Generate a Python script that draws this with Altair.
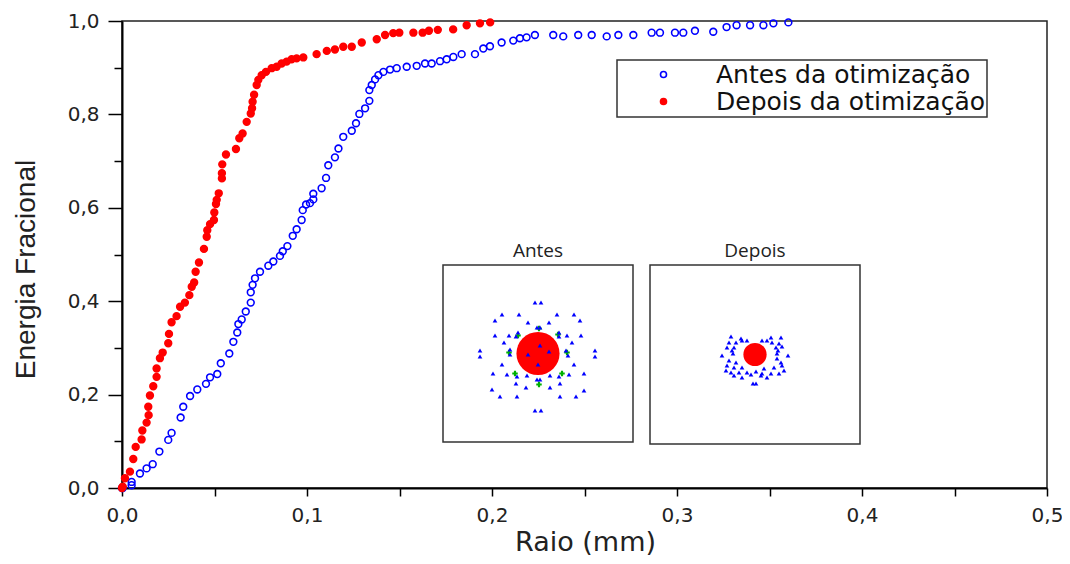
import altair as alt
import pandas as pd

# ---------------- data ----------------
SERIES = ["Antes da otimização", "Depois da otimização"]
SERIES_STROKE = ["#0000ff", "#ff0000"]
SERIES_FILL = ["transparent", "#ff0000"]

X_TICKS = [0.0, 0.05, 0.1, 0.15, 0.2, 0.25, 0.3, 0.35, 0.4, 0.45, 0.5]
Y_TICKS = [0.0, 0.1, 0.2, 0.3, 0.4, 0.5, 0.6, 0.7, 0.8, 0.9, 1.0]

raio_antes = [0.0, 0.0004, 0.0052, 0.0052, 0.0097, 0.0133, 0.0166, 0.0202, 0.0250, 0.0268,
              0.0317, 0.0331, 0.0368, 0.0407, 0.0454, 0.0476, 0.0515, 0.0534, 0.0580, 0.0602,
              0.0623, 0.0629, 0.0647, 0.0669, 0.0696, 0.0696, 0.0706, 0.0719, 0.0746, 0.0791,
              0.0818, 0.0854, 0.0869, 0.0894, 0.0923, 0.0944, 0.0971, 0.0977, 0.0995, 0.1016,
              0.1034, 0.1034, 0.1079, 0.1103, 0.1115, 0.1151, 0.1170, 0.1196, 0.1242, 0.1265,
              0.1283, 0.1314, 0.1337, 0.1337, 0.1350, 0.1368, 0.1386, 0.1413, 0.1449, 0.1485,
              0.1539, 0.1593, 0.1638, 0.1674, 0.1719, 0.1755, 0.1791, 0.1836, 0.1908, 0.1953,
              0.1989, 0.2052, 0.2115, 0.2151, 0.2187, 0.2232, 0.2331, 0.2385, 0.2466, 0.2539,
              0.2620, 0.2683, 0.2764, 0.2863, 0.2908, 0.2989, 0.3034, 0.3097, 0.3196, 0.3268,
              0.3322, 0.3395, 0.3467, 0.3521, 0.3602]
energia_antes = [0.0, 0.0, 0.006, 0.013, 0.031, 0.042, 0.051, 0.078, 0.103, 0.118,
                 0.151, 0.174, 0.197, 0.211, 0.223, 0.237, 0.244, 0.267, 0.288, 0.313,
                 0.333, 0.351, 0.361, 0.378, 0.397, 0.419, 0.435, 0.449, 0.463, 0.476,
                 0.485, 0.497, 0.507, 0.518, 0.540, 0.554, 0.574, 0.595, 0.607, 0.610,
                 0.618, 0.630, 0.642, 0.664, 0.691, 0.708, 0.727, 0.752, 0.765, 0.781,
                 0.801, 0.813, 0.829, 0.852, 0.863, 0.875, 0.884, 0.891, 0.896, 0.899,
                 0.902, 0.904, 0.909, 0.909, 0.914, 0.918, 0.923, 0.929, 0.929, 0.941,
                 0.946, 0.954, 0.958, 0.963, 0.965, 0.970, 0.970, 0.967, 0.970, 0.970,
                 0.967, 0.970, 0.970, 0.975, 0.975, 0.975, 0.975, 0.979, 0.977, 0.987,
                 0.991, 0.991, 0.991, 0.995, 0.997]

raio_depois = [0.0, 0.0004, 0.0016, 0.0043, 0.0061, 0.0074, 0.0106, 0.0110, 0.0133, 0.0144,
               0.0142, 0.0151, 0.0169, 0.0187, 0.0187, 0.0205, 0.0220, 0.0250, 0.0254, 0.0268,
               0.0295, 0.0314, 0.0340, 0.0364, 0.0377, 0.0390, 0.0398, 0.0416, 0.0443, 0.0458,
               0.0461, 0.0476, 0.0497, 0.0499, 0.0508, 0.0512, 0.0523, 0.0540, 0.0540, 0.0542,
               0.0562, 0.0616, 0.0634, 0.0652, 0.0674, 0.0696, 0.0703, 0.0706, 0.0714, 0.0728,
               0.0737, 0.0755, 0.0778, 0.0809, 0.0836, 0.0863, 0.0890, 0.0917, 0.0944, 0.0980,
               0.1052, 0.1107, 0.1151, 0.1196, 0.1242, 0.1296, 0.1377, 0.1422, 0.1466, 0.1499,
               0.1575, 0.1625, 0.1659, 0.1707, 0.1790, 0.1863, 0.1935, 0.1990]
energia_depois = [0.0, 0.003, 0.021, 0.035, 0.062, 0.088, 0.104, 0.123, 0.140, 0.156,
                  0.174, 0.198, 0.218, 0.238, 0.256, 0.278, 0.290, 0.310, 0.330, 0.355,
                  0.368, 0.388, 0.397, 0.413, 0.431, 0.440, 0.463, 0.483, 0.512, 0.538,
                  0.552, 0.565, 0.574, 0.590, 0.608, 0.617, 0.631, 0.663, 0.674, 0.693,
                  0.714, 0.726, 0.749, 0.759, 0.784, 0.802, 0.813, 0.827, 0.842, 0.863,
                  0.874, 0.884, 0.891, 0.899, 0.902, 0.909, 0.913, 0.918, 0.920, 0.922,
                  0.929, 0.936, 0.939, 0.945, 0.945, 0.954, 0.961, 0.970, 0.974, 0.975,
                  0.975, 0.975, 0.979, 0.981, 0.982, 0.991, 0.995, 0.997]

# spot diagrams (offsets from the spot centre, µm)
antes_campo_x = [-95, 95]
antes_campo_y = [-88.5, 88.5]
antes_azul_x = [-3, 3, -36, -19, 19, 36, -43, -10, 11, 42, -20, -22, -1, 2, 21, 21, -43, -29, 29, 43,
                -34, 34, -58, -58, 57, 57, -28, -28, 28, 30, -36, 36, -45, -31, 31, 46, -21, -11, 12, 21,
                -1, 2, -22, -12, 12, 22, -46, 46, -38, -21, 22, 38, -3, 3, 2, 0, -10, 11]
antes_azul_y = [51, 51, 39, 39, 39, 39, 33, 31, 31, 33, 21, 17, 26, 26, 21, 17, 18, 18, 18, 18,
                11, 11, 3, -3, 3, -3, 4, -1, 3, -2, -11, -11, -20, -21, -21, -20, -23, -22, -22, -23,
                -26, -26, -30, -34, -34, -30, -36, -37, -43, -43, -43, -43, -57, -57, 8, -11, -1, 2]
antes_verde_x = [1, -20, 20, -29, 29, -23, 24, 1]
antes_verde_y = [25, 18, 19, 1, 1, -20, -20, -31]
antes_centro = [0, 0]

depois_campo_x = [-105, 105]
depois_campo_y = [-89.5, 89.5]
depois_azul_x = [-24, -14, -8, 7, 16, 26, -26, -19, 17, 24, -28, -21, 21, 27, -33, -22, 22, 33, -26, -19,
                 22, 26, -28, -21, -13, 9, 19, 27, -24, -16, -8, 1, 7, 16, 24, -21, -13, -4, 6, 12,
                 -2, 1, -23, 23, -29, 29, -13, 12]
depois_azul_y = [18, 16, 14, 14, 17, 17, 12, 12, 12, 11, 7, 7, 7, 8, -1, 1, 1, -1, -6, -8,
                 -4, -8, -11, -13, -13, -14, -13, -11, -18, -18, -18, -17, -19, -19, -19, -21, -23, -20, -21, -23,
                 -29, -29, 4, 4, -16, -16, 14, 14]
depois_centro = [0, 0]

# ---------------- main curves ----------------
df = pd.concat([
    pd.DataFrame({"raio": raio_antes, "energia": energia_antes, "serie": SERIES[0]}),
    pd.DataFrame({"raio": raio_depois, "energia": energia_depois, "serie": SERIES[1]}),
], ignore_index=True)

legend = alt.Legend(title=None, orient="none", legendX=495, legendY=39)

x_axis = alt.Axis(
    values=X_TICKS, orient="bottom", grid=False,
    labelExpr="round(datum.value*20) % 2 == 0 ? replace(format(datum.value, '.1f'), '.', ',') : ''",
    labelFont="DejaVu Sans", labelFontSize=20, labelColor="#222222", labelPadding=9,
    labelFlush=False, labelOverlap=False,
    tickSize=8, tickColor="#000000", tickWidth=1.5,
    domainColor="#000000", domainWidth=2,
    titleFont="DejaVu Sans", titleFontSize=27, titleFontWeight="normal", titleColor="#222222",
    titleX=463, titleY=62, titleBaseline="alphabetic", titleAlign="center",
)
y_axis = alt.Axis(
    values=Y_TICKS, orient="left", grid=False,
    labelExpr="round(datum.value*10) % 2 == 0 ? replace(format(datum.value, '.1f'), '.', ',') : ''",
    labelFont="DejaVu Sans", labelFontSize=20, labelColor="#222222", labelPadding=9,
    labelFlush=False, labelOverlap=False,
    tickSize={"condition": {"test": "round(datum.value*10) % 2 == 0", "value": 14}, "value": 8},
    tickColor="#000000", tickWidth=1.5,
    domainColor="#000000", domainWidth=2,
    titleFont="Liberation Sans", titleFontSize=28, titleFontWeight="normal", titleColor="#222222",
    titleX=-88, titleY=248, titleAngle=270, titleBaseline="alphabetic", titleAlign="center",
)

curves = alt.Chart(df).mark_point(size=46, strokeWidth=1.6, opacity=1, filled=False).encode(
    x=alt.X("raio:Q", title="Raio (mm)", scale=alt.Scale(domain=[0, 0.5], nice=False, zero=False), axis=x_axis),
    y=alt.Y("energia:Q", title="Energia Fracional", scale=alt.Scale(domain=[0, 1], nice=False), axis=y_axis),
    color=alt.Color("serie:N", scale=alt.Scale(domain=SERIES, range=SERIES_STROKE), legend=legend),
    fill=alt.Fill("serie:N", scale=alt.Scale(domain=SERIES, range=SERIES_FILL), legend=legend),
)


# ---------------- inset spot diagrams ----------------
def inset(titulo, campo_x, campo_y, px_x, px_y, azul_x, azul_y, verde_x, verde_y, centro, disco):
    xs = alt.Scale(domain=campo_x, range=px_x, nice=False, zero=False)
    ys = alt.Scale(domain=campo_y, range=px_y, nice=False, zero=False)
    quadro = pd.DataFrame({"x1": [campo_x[0]], "x2": [campo_x[1]], "y1": [campo_y[0]], "y2": [campo_y[1]],
                           "xc": [(campo_x[0] + campo_x[1]) / 2], "titulo": [titulo]})
    layers = [
        alt.Chart(quadro).mark_rect(fill="white", stroke="#333333", strokeWidth=1.5).encode(
            x=alt.X("x1:Q", scale=xs, axis=None), x2="x2:Q",
            y=alt.Y("y1:Q", scale=ys, axis=None), y2="y2:Q"),
        alt.Chart(quadro).mark_text(font="Open Sans", fontSize=19, color="#222222",
                                    baseline="alphabetic", dy=-8).encode(
            x=alt.X("xc:Q", scale=xs, axis=None), y=alt.Y("y2:Q", scale=ys, axis=None), text="titulo:N"),
    ]
    if verde_x:
        layers.append(alt.Chart(pd.DataFrame({"x": verde_x, "y": verde_y})).mark_point(
            shape="cross", filled=True, size=30, color="#00b000", opacity=1).encode(
            x=alt.X("x:Q", scale=xs, axis=None), y=alt.Y("y:Q", scale=ys, axis=None)))
    layers.append(alt.Chart(pd.DataFrame({"x": [centro[0]], "y": [centro[1]]})).mark_point(
        shape="circle", filled=True, size=disco, color="#ff0000", opacity=1).encode(
        x=alt.X("x:Q", scale=xs, axis=None), y=alt.Y("y:Q", scale=ys, axis=None)))
    layers.append(alt.Chart(pd.DataFrame({"x": azul_x, "y": azul_y})).mark_point(
        shape="triangle-up", filled=True, size=22, color="#0000ff", opacity=1).encode(
        x=alt.X("x:Q", scale=xs, axis=None), y=alt.Y("y:Q", scale=ys, axis=None)))
    return alt.layer(*layers)


antes = inset("Antes", antes_campo_x, antes_campo_y, [321, 511], [421, 244],
              antes_azul_x, antes_azul_y, antes_verde_x, antes_verde_y, antes_centro, 1860)
depois = inset("Depois", depois_campo_x, depois_campo_y, [528, 738], [423, 244],
               depois_azul_x, depois_azul_y, [], [], depois_centro, 540)

chart = alt.layer(curves, antes, depois).resolve_scale(
    x="independent", y="independent"
).properties(
    width=925, height=467,
    autosize=alt.AutoSizeParams(type="none"),
    padding={"left": 114, "top": 13, "right": 15, "bottom": 68},
).configure_view(
    stroke="#222222", strokeWidth=1.5
).configure_legend(
    strokeColor="#333333", strokeWidth=1.5, fillColor="white", padding=2, rowPadding=1,
    labelFont="DejaVu Sans", labelFontSize=25, labelColor="#111111", labelLimit=400,
    symbolSize=36, symbolStrokeWidth=1.6, symbolOffset=32, labelOffset=40, symbolType="circle",
)

chart.save("out.html", embed_options={"renderer": "svg", "actions": False})
